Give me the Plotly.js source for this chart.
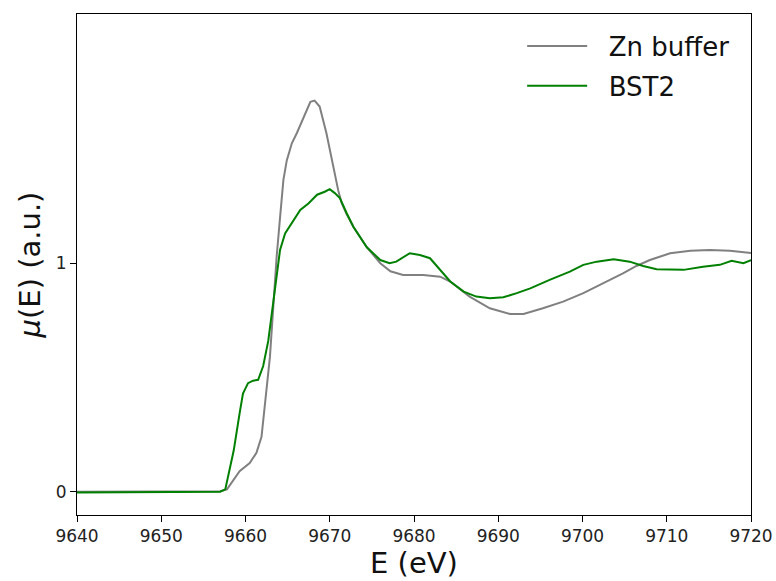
<!DOCTYPE html>
<html>
<head>
<meta charset="utf-8">
<script src="https://cdn.plot.ly/plotly-3.0.1.min.js"></script>
<style>html,body{margin:0;padding:0;background:#fff;}#plot{width:776px;height:581px;}</style>
</head>
<body>
<div id="plot"></div>
<script>
// Zn buffer (gray)
const znE = [9640, 9645, 9650, 9655, 9657, 9657.8, 9658.5, 9659.3, 9660.5, 9661.3, 9661.9, 9662.5, 9662.9, 9663.3, 9663.7, 9664.1, 9664.5, 9664.9, 9665.5, 9666.1, 9666.9, 9667.7, 9668.2, 9668.8, 9669.6, 9670.4, 9671.0, 9671.4, 9672.0, 9672.8, 9674.4, 9676.0, 9677.2, 9678.7, 9681.1, 9683.1, 9684.3, 9686.6, 9689.0, 9691.4, 9693.0, 9695.3, 9697.7, 9700.1, 9702.5, 9704.8, 9706.4, 9708.0, 9710.4, 9712.8, 9715.1, 9717.5, 9720];
const znMu = [0.0, 0.001, 0.0, 0.0, 0.002, 0.01, 0.045, 0.09, 0.125, 0.17, 0.24, 0.44, 0.59, 0.81, 1.03, 1.20, 1.365, 1.45, 1.525, 1.57, 1.64, 1.707, 1.712, 1.686, 1.57, 1.42, 1.32, 1.265, 1.215, 1.16, 1.07, 1.0, 0.965, 0.949, 0.949, 0.941, 0.92, 0.854, 0.803, 0.778, 0.778, 0.803, 0.832, 0.869, 0.912, 0.956, 0.988, 1.014, 1.044, 1.055, 1.058, 1.055, 1.045];

// BST2 (green)
const bstE = [9640, 9645, 9650, 9653, 9655, 9657, 9657.6, 9658.6, 9659.3, 9659.7, 9660.3, 9660.9, 9661.5, 9662.1, 9662.7, 9663.3, 9663.7, 9664.1, 9664.7, 9665.5, 9666.5, 9667.5, 9668.5, 9669.4, 9670.0, 9670.6, 9671.2, 9672.0, 9672.8, 9674.4, 9676.0, 9677.1, 9677.9, 9679.5, 9680.7, 9681.9, 9683.1, 9684.3, 9685.9, 9687.4, 9689.0, 9690.6, 9692.2, 9693.8, 9696.1, 9698.5, 9700.1, 9701.7, 9703.7, 9705.6, 9707.2, 9708.8, 9712.0, 9714.3, 9716.3, 9717.7, 9719.1, 9720];
const bstMu = [-0.003, -0.002, -0.003, -0.002, -0.002, 0.0, 0.01, 0.18, 0.343, 0.43, 0.475, 0.486, 0.49, 0.55, 0.66, 0.825, 0.956, 1.058, 1.13, 1.175, 1.233, 1.263, 1.30, 1.313, 1.324, 1.307, 1.285, 1.22, 1.16, 1.07, 1.014, 1.0, 1.007, 1.044, 1.036, 1.022, 0.97, 0.92, 0.876, 0.854, 0.847, 0.851, 0.869, 0.89, 0.927, 0.963, 0.993, 1.007, 1.017, 1.007, 0.988, 0.974, 0.971, 0.985, 0.993, 1.011, 1.0, 1.014];

const seriesNames = ["Zn buffer", "BST2"];
const xTicks = [9640, 9650, 9660, 9670, 9680, 9690, 9700, 9710, 9720];
const yTicks = [0, 1];

const pad = "\u00a0\u00a0";
const traces = [
  {x: znE, y: znMu, name: pad + seriesNames[0], mode: "lines", line: {color: "gray", width: 2}, legendgroup: "a"},
  {x: bstE, y: bstMu, name: pad + seriesNames[1], mode: "lines", line: {color: "green", width: 2}, legendgroup: "b"}
];

const layout = {
  width: 776, height: 581,
  margin: {l: 77, r: 25, t: 14, b: 66, pad: 0},
  paper_bgcolor: "#fff", plot_bgcolor: "#fff",
  font: {family: "DejaVu Sans", color: "#000", size: 17},
  showlegend: true,
  legend: {x: 0.975, y: 0.983, xanchor: "right", yanchor: "top", bgcolor: "rgba(0,0,0,0)",
           font: {size: 26, family: "DejaVu Sans", color: "#111"}, traceorder: "grouped", tracegroupgap: 3, itemwidth: 60},
  xaxis: {
    range: [9640, 9720], tickvals: xTicks, ticktext: xTicks.map(String),
    showgrid: false, zeroline: false, showline: true, mirror: true, linecolor: "#000", linewidth: 1,
    ticks: "outside", ticklen: 6, tickcolor: "#000", tickfont: {size: 17, color: "#222"},
    title: {text: "E (eV)", font: {size: 29, color: "#111"}, standoff: 6}
  },
  yaxis: {
    range: [-0.102, 2.091], tickvals: yTicks, ticktext: yTicks.map(String),
    showgrid: false, zeroline: false, showline: true, mirror: true, linecolor: "#000", linewidth: 1,
    ticks: "outside", ticklen: 6, tickcolor: "#000", tickfont: {size: 17, color: "#222"},
    title: {text: "<i>μ</i>(E) (a.u.)", font: {size: 29, color: "#111"}, standoff: 6}
  }
};

Plotly.newPlot("plot", traces, layout, {displayModeBar: false, staticPlot: true});
</script>
</body>
</html>
